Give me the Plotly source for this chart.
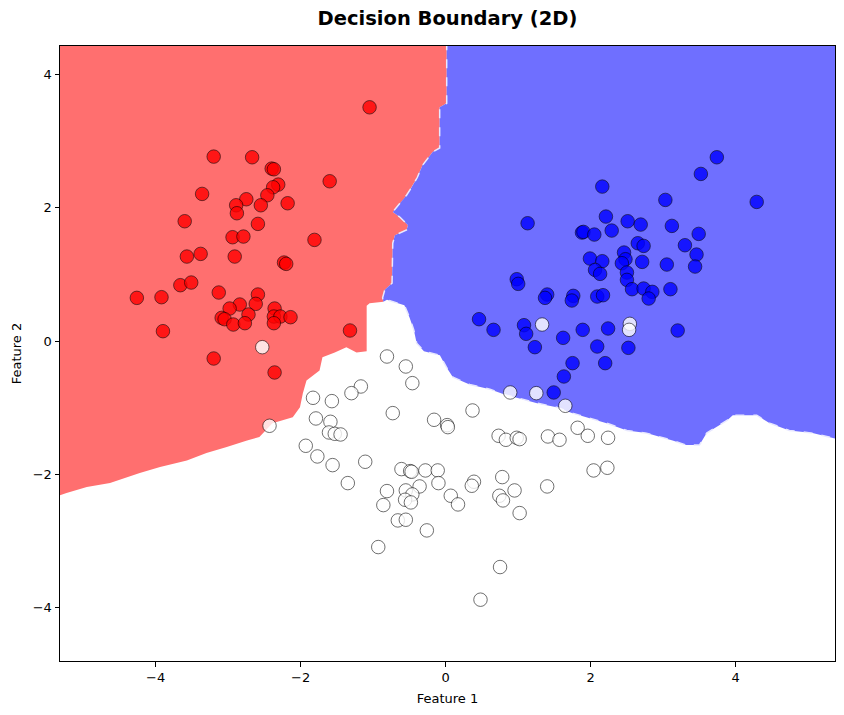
import plotly.graph_objects as go

# ---- data ----
red_x = [-1.05, -3.20, -2.67, -2.40, -2.37, -1.60, -2.31, -2.38, -2.46, -2.55, -2.18, -2.75,
         -3.36, -2.89, -2.88, -2.59, -3.60, -1.81, -2.94, -2.79, -3.57, -3.38, -2.91, -2.23,
         -2.20, -3.66, -3.51, -4.26, -3.92, -3.13, -2.59, -2.62, -2.84, -2.98, -2.72, -2.36,
         -2.37, -2.28, -2.14, -3.09, -3.05, -2.93, -2.77, -2.37, -3.90, -1.32, -3.20, -2.36]
red_y = [3.51, 2.77, 2.76, 2.59, 2.58, 2.40, 2.35, 2.31, 2.19, 2.04, 2.07, 2.13,
         2.21, 2.04, 1.92, 1.76, 1.80, 1.52, 1.56, 1.57, 1.27, 1.31, 1.27, 1.18,
         1.16, 0.84, 0.88, 0.65, 0.66, 0.73, 0.70, 0.56, 0.55, 0.49, 0.40, 0.49,
         0.37, 0.37, 0.36, 0.35, 0.33, 0.25, 0.27, 0.27, 0.15, 0.16, -0.26, -0.47]

blue_x = [3.74, 3.52, 2.16, 3.03, 4.29, 2.21, 2.51, 2.69, 3.12, 1.13, 1.88, 1.90, 2.05, 2.29,
          3.49, 3.30, 2.65, 2.73, 3.46, 3.44, 3.05, 2.46, 2.48, 2.43, 2.71, 1.99, 2.16, 2.06,
          2.13, 2.50, 2.50, 2.57, 2.73, 2.85, 2.80, 3.10, 0.98, 1.00, 1.40, 1.37, 1.76, 1.74,
          2.09, 2.17, 0.46, 0.66, 1.08, 1.11, 1.23, 1.62, 1.89, 2.24, 3.20, 2.09, 2.52, 1.75,
          2.20, 1.63, 1.49]
blue_y = [2.76, 2.51, 2.32, 2.12, 2.09, 1.87, 1.80, 1.75, 1.73, 1.77, 1.63, 1.64, 1.60, 1.66,
          1.61, 1.44, 1.47, 1.43, 1.30, 1.12, 1.15, 1.33, 1.23, 1.17, 1.19, 1.24, 1.20, 1.07,
          1.01, 1.03, 0.92, 0.78, 0.79, 0.74, 0.64, 0.78, 0.93, 0.86, 0.70, 0.65, 0.68, 0.61,
          0.67, 0.69, 0.33, 0.17, 0.24, 0.11, -0.09, 0.05, 0.17, 0.19, 0.16, -0.08, -0.10, -0.33,
          -0.33, -0.53, -0.77]

white_x = [-2.53, -2.43, -0.81, -0.55, -0.46, -1.17, -1.30, -1.83, -1.57, -0.73, -0.16, 0.02,
           0.03, -1.79, -1.59, -1.61, -1.53, -1.45, -1.93, -1.77, -1.56, -1.11, -1.35, -0.61,
           -0.49, -0.47, -0.28, -0.11, -0.10, -0.36, -0.81, -0.55, -0.46, -0.56, -0.48, -0.86,
           0.07, 0.17, -0.66, -0.55, -0.26, -0.93,
           1.33, 2.54, 2.53, 0.89, 1.25, 1.65,
           0.37, 0.73, 0.83, 0.98, 1.02, 1.41, 1.57, 1.82, 1.96, 2.24, 2.04, 2.23, 0.78, 0.39,
           0.36, 0.95, 1.40, 0.74, 0.79, 1.02, 0.75, 0.48]
white_y = [-0.09, -1.27, -0.23, -0.38, -0.63, -0.68, -0.78, -0.85, -0.90, -1.08, -1.18, -1.26,
           -1.29, -1.16, -1.21, -1.37, -1.39, -1.40, -1.57, -1.73, -1.86, -1.81, -2.13, -1.92,
           -1.95, -1.96, -1.94, -1.94, -2.13, -2.18, -2.25, -2.24, -2.30, -2.38, -2.42, -2.46,
           -2.32, -2.45, -2.69, -2.68, -2.84, -3.09,
           0.25, 0.26, 0.17, -0.77, -0.78, -0.97,
           -1.04, -1.42, -1.48, -1.45, -1.47, -1.43, -1.48, -1.30, -1.42, -1.45, -1.94, -1.90, -2.04, -2.11,
           -2.17, -2.24, -2.18, -2.32, -2.39, -2.58, -3.39, -3.88]

# decision boundaries
# red / blue boundary, top to triple junction
rb_x = [0.014, 0.014, -0.083, -0.083, -0.18, -0.26, -0.32, -0.39, -0.47, -0.54, -0.59, -0.73,
        -0.63, -0.52, -0.54, -0.70, -0.73, -0.74, -0.84, -0.87, -0.86]
rb_y = [4.60, 3.57, 3.51, 2.90, 2.84, 2.72, 2.64, 2.46, 2.31, 2.19, 2.12, 1.94,
        1.86, 1.74, 1.67, 1.59, 1.47, 0.87, 0.77, 0.65, 0.59]
# red / white boundary, junction to left
rw_x = [-1.05, -1.09, -1.09, -1.23, -1.37, -1.53, -1.70, -1.74, -1.92, -1.97, -2.01, -2.11,
        -2.39, -2.57, -2.74, -3.02, -3.30, -3.57, -3.94, -4.22, -4.63, -4.95, -5.23, -5.60]
rw_y = [0.57, 0.53, -0.15, -0.17, -0.09, -0.17, -0.24, -0.44, -0.59, -0.78, -0.99, -1.14,
        -1.23, -1.44, -1.49, -1.59, -1.68, -1.79, -1.89, -1.98, -2.13, -2.19, -2.28, -2.42]
# blue / white boundary, junction to right
bw_x = [-0.81, -0.57, -0.50, -0.44, -0.40, -0.30, -0.08, 0.01, 0.10, 0.33, 0.61, 0.84, 1.06,
        1.26, 1.53, 1.75, 1.94, 2.22, 2.50, 2.77, 3.13, 3.32, 3.50, 3.60, 3.88, 3.96, 4.29,
        4.47, 4.74, 5.06, 5.37, 5.60]
bw_y = [0.62, 0.54, 0.36, 0.17, -0.03, -0.15, -0.21, -0.39, -0.54, -0.65, -0.72, -0.81, -0.87,
        -0.93, -0.99, -1.08, -1.14, -1.23, -1.34, -1.38, -1.49, -1.56, -1.56, -1.38, -1.19, -1.11,
        -1.11, -1.23, -1.34, -1.38, -1.46, -1.50]

x_range = [-5.32, 5.37]
y_range = [-4.80, 4.43]
x_ticks = [-4, -2, 0, 2, 4]
y_ticks = [-4, -2, 0, 2, 4]

# region polygons built from the boundary arrays (outer corners lie outside the axes)
x_far_l, x_far_r, y_far_t = -6.0, 6.0, 5.0
red_poly_x = [x_far_l, rb_x[0]] + rb_x + rw_x + [x_far_l]
red_poly_y = [y_far_t, y_far_t] + rb_y + rw_y + [rw_y[-1]]
blue_poly_x = [rb_x[0], x_far_r, x_far_r] + bw_x[::-1] + rb_x[::-1]
blue_poly_y = [y_far_t, y_far_t, bw_y[-1]] + bw_y[::-1] + rb_y[::-1]

fig = go.Figure()
fig.add_trace(go.Scatter(x=red_poly_x, y=red_poly_y, fill="toself", fillcolor="#FF6F6F",
                         mode="lines", line=dict(width=0, color="#FF6F6F"),
                         hoverinfo="skip", showlegend=False))
fig.add_trace(go.Scatter(x=blue_poly_x, y=blue_poly_y, fill="toself", fillcolor="#6F6FFF",
                         mode="lines", line=dict(width=1.5, color="#E8E8FF", dash="dash"),
                         hoverinfo="skip", showlegend=False))

marker_common = dict(size=13.5, opacity=0.8, line=dict(color="black", width=0.7))
for xs, ys, col in [(red_x, red_y, "#FF0000"), (blue_x, blue_y, "#0000FF"),
                    (white_x, white_y, "#FFFFFF")]:
    fig.add_trace(go.Scatter(x=xs, y=ys, mode="markers", showlegend=False,
                             marker=dict(color=col, **marker_common)))

axis_common = dict(showgrid=False, zeroline=False, showline=True, linecolor="black",
                   linewidth=1, mirror=True, ticks="outside", ticklen=4.5, tickwidth=1,
                   tickcolor="black", tickfont=dict(size=13, color="black"))

fig.update_layout(
    width=844, height=715,
    margin=dict(l=60, r=9, t=46, b=54),
    paper_bgcolor="white", plot_bgcolor="white",
    font=dict(family="DejaVu Sans", color="black"),
    title=dict(text="<b>Decision Boundary (2D)</b>", x=0.5, xanchor="center",
               xref="paper", y=1 - 18 / 715, yref="container", yanchor="middle",
               font=dict(size=19.5, color="black")),
    xaxis=dict(range=x_range, tickvals=x_ticks,
               title=dict(text="Feature 1", font=dict(size=13), standoff=9), **axis_common),
    yaxis=dict(range=y_range, tickvals=y_ticks,
               title=dict(text="Feature 2", font=dict(size=13), standoff=8), **axis_common),
)

fig.write_html("out.html")
